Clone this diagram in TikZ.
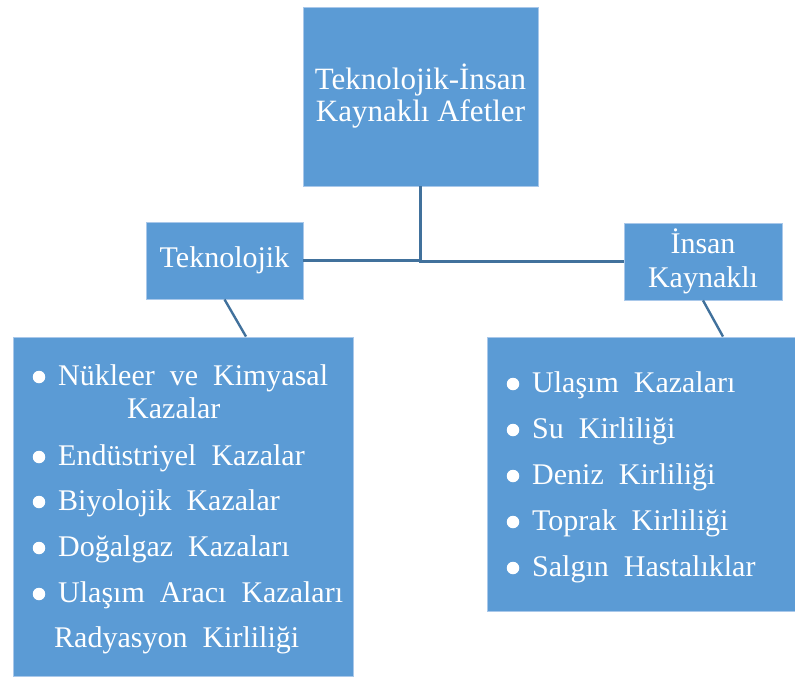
\documentclass[tikz,border=0pt]{standalone}
\usepackage{fontspec}
\setmainfont{Liberation Serif}
\definecolor{boxblue}{HTML}{5B9BD5}
\definecolor{lineblue}{HTML}{41719C}
\definecolor{edge}{HTML}{A9C8EA}
\newcommand{\myitemfont}{\fontsize{30}{33}\selectfont\spaceskip=0.5em\relax}
\begin{document}
\begin{tikzpicture}[x=1pt,y=-1pt,
  box/.style={draw=edge,line width=0.8pt,fill=boxblue,inner sep=0pt,text=white,align=center},
  head/.style={font=\fontsize{30}{34}\selectfont},
  title/.style={font=\fontsize{31}{32}\selectfont},
  item/.style={anchor=base west,inner sep=0pt,text=white,font=\myitemfont},
  dot/.style={circle,fill=white,inner sep=0pt,minimum size=12.5pt},
  conn/.style={draw=lineblue,line width=2.4pt}]
\useasboundingbox (0,0) rectangle (795,677);
% boxes
\node[box,title,minimum width=235pt,minimum height=179pt] (top) at (420.5,96.5) {Teknolojik-İnsan\\Kaynaklı Afetler};
\node[box,head,minimum width=157pt,minimum height=77pt] (tek) at (224.5,260.5) {Teknolojik};
\node[box,head,minimum width=158pt,minimum height=77pt] (ins) at (703,261.5) {İnsan\\Kaynaklı};
\node[box,minimum width=340pt,minimum height=339pt] (lst) at (183,506.5) {};
\node[box,minimum width=308pt,minimum height=274pt] (rst) at (641,474) {};
% connectors
\draw[conn] (top.south) |- (ins.west);
\draw[conn] (tek.east) -- (tek.east -| top.south);
\draw[conn] (tek.south) -- ([xshift=63pt]lst.north);
\draw[conn] (ins.south) -- ([xshift=82pt]rst.north);
% left list
\node[dot] (lb1) at (39,377) {};
\node[item] (l1) at (58,385) {Nükleer ve Kimyasal};
\node[item] (l1b) at (127,418) {Kazalar};
\node[dot] (lb2) at (39,457) {};
\node[item] (l2) at (58,465) {Endüstriyel Kazalar};
\node[dot] (lb3) at (39,502) {};
\node[item] (l3) at (58,510) {Biyolojik Kazalar};
\node[dot] (lb4) at (39,548) {};
\node[item] (l4) at (58,556) {Doğalgaz Kazaları};
\node[dot] (lb5) at (39,594) {};
\node[item] (l5) at (58,602) {Ulaşım Aracı Kazaları};
\node[item] (l6) at (54,647) {Radyasyon Kirliliği};
% right list
\node[dot] (rb1) at (513,384) {};
\node[item] (r1) at (532,392) {Ulaşım Kazaları};
\node[dot] (rb2) at (513,430) {};
\node[item] (r2) at (532,438) {Su Kirliliği};
\node[dot] (rb3) at (513,476) {};
\node[item] (r3) at (532,484) {Deniz Kirliliği};
\node[dot] (rb4) at (513,522) {};
\node[item] (r4) at (532,530) {Toprak Kirliliği};
\node[dot] (rb5) at (513,568) {};
\node[item] (r5) at (532,576) {Salgın Hastalıklar};
\end{tikzpicture}
\end{document}
